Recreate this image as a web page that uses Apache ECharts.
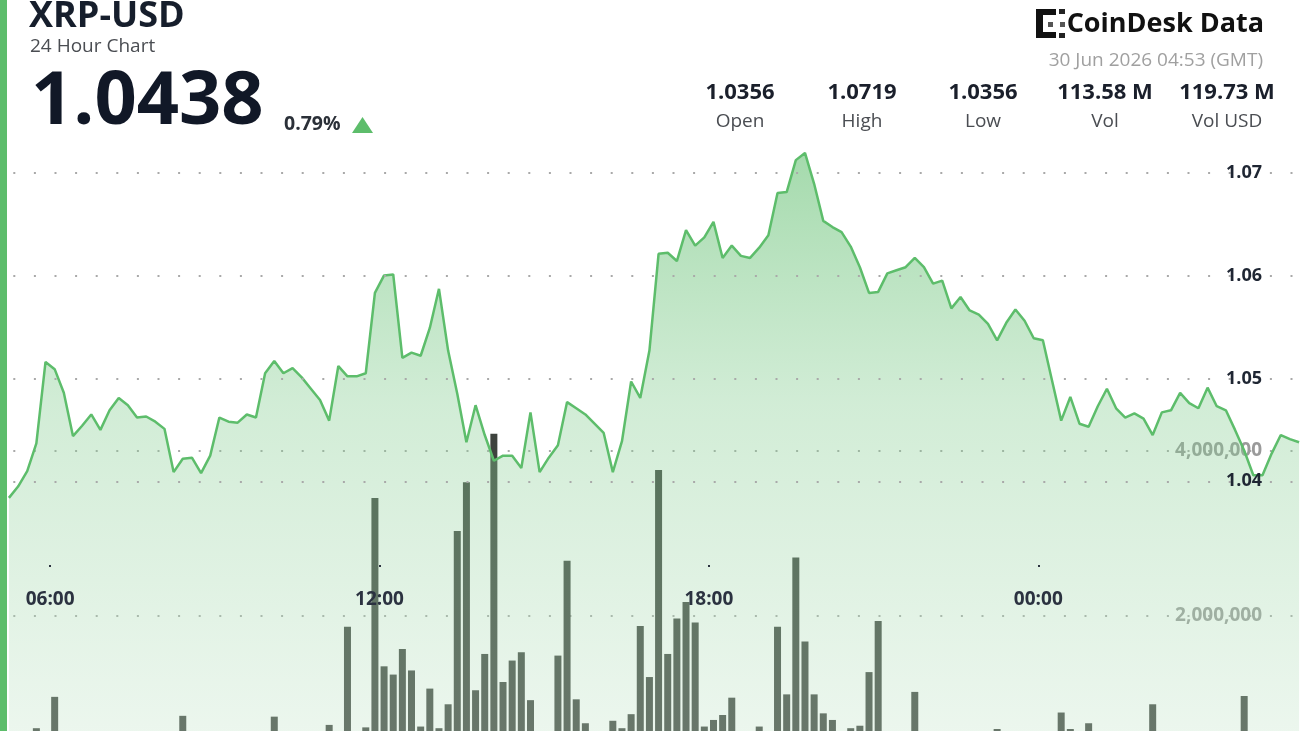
<!DOCTYPE html>
<html>
<head>
<meta charset="utf-8">
<title>XRP-USD 24 Hour Chart</title>
<script src="https://cdn.jsdelivr.net/npm/echarts@6/dist/echarts.min.js"></script>
<style>
  html, body { margin: 0; padding: 0; background: #fff; overflow: hidden; }
  #chart { width: 1300px; height: 731px; }
</style>
</head>
<body>
<div id="chart"></div>
<script>
// 10分钟时间槽（槽中心时间）
const slotTimes = [
  '05:15', '05:25', '05:35', '05:45', '05:55',
  '06:05', '06:15', '06:25', '06:35', '06:45', '06:55',
  '07:05', '07:15', '07:25', '07:35', '07:45', '07:55',
  '08:05', '08:15', '08:25', '08:35', '08:45', '08:55',
  '09:05', '09:15', '09:25', '09:35', '09:45', '09:55',
  '10:05', '10:15', '10:25', '10:35', '10:45', '10:55',
  '11:05', '11:15', '11:25', '11:35', '11:45', '11:55',
  '12:05', '12:15', '12:25', '12:35', '12:45', '12:55',
  '13:05', '13:15', '13:25', '13:35', '13:45', '13:55',
  '14:05', '14:15', '14:25', '14:35', '14:45', '14:55',
  '15:05', '15:15', '15:25', '15:35', '15:45', '15:55',
  '16:05', '16:15', '16:25', '16:35', '16:45', '16:55',
  '17:05', '17:15', '17:25', '17:35', '17:45', '17:55',
  '18:05', '18:15', '18:25', '18:35', '18:45', '18:55',
  '19:05', '19:15', '19:25', '19:35', '19:45', '19:55',
  '20:05', '20:15', '20:25', '20:35', '20:45', '20:55',
  '21:05', '21:15', '21:25', '21:35', '21:45', '21:55',
  '22:05', '22:15', '22:25', '22:35', '22:45', '22:55',
  '23:05', '23:15', '23:25', '23:35', '23:45', '23:55',
  '00:05', '00:15', '00:25', '00:35', '00:45', '00:55',
  '01:05', '01:15', '01:25', '01:35', '01:45', '01:55',
  '02:05', '02:15', '02:25', '02:35', '02:45', '02:55',
  '03:05', '03:15', '03:25', '03:35', '03:45', '03:55',
  '04:05', '04:15', '04:25', '04:35', '04:45'
];

// 价格
const prices = [
  1.0384, 1.0395, 1.0410, 1.0437, 1.0516,
  1.0509, 1.0486, 1.0444, 1.0454, 1.0465, 1.0450,
  1.0469, 1.0481, 1.0474, 1.0462, 1.0463, 1.0458,
  1.0451, 1.0409, 1.0422, 1.0423, 1.0408, 1.0425,
  1.0462, 1.0458, 1.0457, 1.0465, 1.0462, 1.0505,
  1.0517, 1.0505, 1.0510, 1.0501, 1.0490, 1.0479,
  1.0459, 1.0512, 1.0502, 1.0502, 1.0505, 1.0583,
  1.0600, 1.0601, 1.0520, 1.0525, 1.0522, 1.0549,
  1.0587, 1.0527, 1.0485, 1.0438, 1.0474, 1.0445,
  1.0420, 1.0425, 1.0425, 1.0413, 1.0467, 1.0409,
  1.0423, 1.0435, 1.0477, 1.0471, 1.0465, 1.0456,
  1.0447, 1.0409, 1.0439, 1.0497, 1.0481, 1.0527,
  1.0621, 1.0622, 1.0614, 1.0644, 1.0629, 1.0637,
  1.0652, 1.0617, 1.0629, 1.0619, 1.0617, 1.0627,
  1.0639, 1.0680, 1.0681, 1.0712, 1.0719, 1.0689,
  1.0653, 1.0647, 1.0642, 1.0628, 1.0608, 1.0583,
  1.0584, 1.0602, 1.0605, 1.0608, 1.0617, 1.0608,
  1.0592, 1.0595, 1.0568, 1.0579, 1.0566, 1.0562,
  1.0553, 1.0537, 1.0554, 1.0567, 1.0556, 1.0539,
  1.0537, 1.0498, 1.0459, 1.0482, 1.0456, 1.0453,
  1.0473, 1.0490, 1.0471, 1.0462, 1.0466, 1.0461,
  1.0445, 1.0467, 1.0469, 1.0486, 1.0476, 1.0471,
  1.0491, 1.0473, 1.0469, 1.0450, 1.0430, 1.0406,
  1.0406, 1.0427, 1.0445, 1.0441, 1.0438
];

// 成交量
const volumes = [
  420000, 310000, 460000, 640000, 380000,
  1020000, 350000, 280000, 410000, 330000, 290000,
  450000, 370000, 260000, 340000, 480000, 300000,
  390000, 520000, 790000, 360000, 440000, 270000,
  310000, 500000, 380000, 330000, 420000, 470000,
  780000, 350000, 290000, 410000, 360000, 450000,
  680000, 530000, 1870000, 480000, 650000, 3430000,
  1390000, 1290000, 1600000, 1340000, 660000, 1120000,
  640000, 930000, 3030000, 3620000, 1100000, 1540000,
  4210000, 1200000, 1460000, 1560000, 980000, 420000,
  510000, 1520000, 2670000, 990000, 700000, 540000,
  470000, 730000, 640000, 810000, 1880000, 1260000,
  3770000, 1540000, 1970000, 2170000, 1920000, 660000,
  740000, 800000, 1010000, 550000, 430000, 660000,
  520000, 1870000, 1050000, 2710000, 1690000, 1050000,
  820000, 740000, 560000, 640000, 670000, 1320000,
  1940000, 480000, 390000, 420000, 1080000, 450000,
  370000, 310000, 400000, 350000, 280000, 330000,
  420000, 630000, 360000, 290000, 380000, 340000,
  300000, 410000, 830000, 630000, 450000, 700000,
  380000, 330000, 290000, 360000, 410000, 340000,
  930000, 420000, 300000, 350000, 280000, 390000,
  330000, 270000, 360000, 420000, 1030000, 380000,
  310000, 290000, 340000, 260000, 300000
];

const hourTicks = ['06:00', '12:00', '18:00', '00:00'];
const priceTicks = [1.04, 1.05, 1.06, 1.07];
const volumeTicks = [2000000, 4000000];

const statValues = ['1.0356', '1.0719', '1.0356', '113.58 M', '119.73 M'];
const statNames = ['Open', 'High', 'Low', 'Vol', 'Vol USD'];

const FONT = '"Open Sans", "Noto Sans", sans-serif';
const GREEN = '#5dbd6b';

// 时间转分钟，05:00 之前属于第二天
function toMinutes(t) {
  const parts = t.split(':').map(Number);
  const h = parts[0] < 5 ? parts[0] + 24 : parts[0];
  return h * 60 + parts[1];
}

function minutesToLabel(v) {
  const m = ((Math.round(v) % 1440) + 1440) % 1440;
  const hh = String(Math.floor(m / 60)).padStart(2, '0');
  const mm = String(m % 60).padStart(2, '0');
  return hh + ':' + mm;
}

const priceData = slotTimes.map((t, i) => [toMinutes(t), prices[i]]);
const volumeData = slotTimes.map((t, i) => [toMinutes(t), volumes[i]]);
const hourTickValues = hourTicks.map(toMinutes);

const dotLine = {
  type: [2, 18.6],
  dashOffset: 15.3,
  width: 2,
  color: '#a9a9a9'
};

// 头部文字
const headerElements = [
  { type: 'rect', shape: { x: 0, y: 0, width: 7, height: 731 }, style: { fill: GREEN } },
  { type: 'text', x: 29, y: 17, style: { text: 'XRP-USD', font: 'bold 36px ' + FONT, fill: '#161e2c', textVerticalAlign: 'middle' } },
  { type: 'text', x: 30, y: 47, style: { text: '24 Hour Chart', font: '19px ' + FONT, fill: '#4a4d52', textVerticalAlign: 'middle' } },
  { type: 'text', x: 31, y: 103, style: { text: '1.0438', font: 'bold 74px ' + FONT, fill: '#111827', textVerticalAlign: 'middle' } },
  { type: 'text', x: 284, y: 124, style: { text: '0.79%', font: 'bold 19.5px ' + FONT, fill: '#2b3038', textVerticalAlign: 'middle' } },
  { type: 'polygon', shape: { points: [[352, 133], [373, 133], [362.5, 117]] }, style: { fill: GREEN } },
  { type: 'text', x: 1263, y: 61, style: { text: '30 Jun 2026 04:53 (GMT)', font: '19px ' + FONT, fill: '#a0a0a0', textAlign: 'right', textVerticalAlign: 'middle' } },
  { type: 'text', x: 1264, y: 24, style: { text: 'CoinDesk Data', font: 'bold 27px ' + FONT, fill: '#111111', textAlign: 'right', textVerticalAlign: 'middle' } },
  // logo 图标
  { type: 'rect', shape: { x: 1036, y: 9, width: 7, height: 29 }, style: { fill: '#111' } },
  { type: 'rect', shape: { x: 1036, y: 9, width: 20, height: 6 }, style: { fill: '#111' } },
  { type: 'rect', shape: { x: 1059, y: 9, width: 6, height: 5 }, style: { fill: '#222' } },
  { type: 'rect', shape: { x: 1036, y: 32, width: 20, height: 6 }, style: { fill: '#111' } },
  { type: 'rect', shape: { x: 1059, y: 33, width: 6, height: 5 }, style: { fill: '#222' } },
  { type: 'rect', shape: { x: 1048, y: 22, width: 5, height: 5 }, style: { fill: '#555' } },
  { type: 'rect', shape: { x: 1060, y: 22, width: 5, height: 5 }, style: { fill: '#555' } }
];

const statX = [740, 862, 983, 1105, 1227];
statValues.forEach((v, i) => {
  headerElements.push({ type: 'text', x: statX[i], y: 93, style: { text: v, font: 'bold 22px ' + FONT, fill: '#1a1f2b', textAlign: 'center', textVerticalAlign: 'middle' } });
  headerElements.push({ type: 'text', x: statX[i], y: 122, style: { text: statNames[i], font: '19px ' + FONT, fill: '#4a4d52', textAlign: 'center', textVerticalAlign: 'middle' } });
});

const chartDom = document.getElementById('chart');
const myChart = echarts.init(chartDom);

const option = {
  backgroundColor: '#ffffff',
  animation: false,
  grid: {
    left: 8,
    right: 0,
    top: 121,
    height: 660,
    outerBoundsMode: 'none'
  },
  xAxis: {
    type: 'value',
    min: 314,
    max: 1726,
    position: 'bottom',
    offset: -216,
    z: 10,
    axisLine: { show: false },
    splitLine: { show: false },
    axisTick: {
      show: true,
      length: 2,
      customValues: hourTickValues,
      lineStyle: { color: '#2b3240', width: 2 }
    },
    axisLabel: {
      customValues: hourTickValues,
      margin: 25,
      color: '#2b3240',
      fontSize: 19,
      fontWeight: 'bold',
      fontFamily: FONT,
      formatter: minutesToLabel
    }
  },
  yAxis: [
    {
      type: 'value',
      position: 'right',
      min: 1.0109,
      max: 1.0750,
      z: 10,
      axisLine: { show: false },
      axisTick: { show: false, customValues: priceTicks },
      axisLabel: {
        inside: true,
        margin: 38,
        customValues: priceTicks,
        color: '#1f2633',
        fontSize: 18,
        fontWeight: 'bold',
        fontFamily: FONT,
        formatter: (v) => v.toFixed(2)
      },
      splitLine: { show: true, lineStyle: dotLine }
    },
    {
      type: 'value',
      position: 'right',
      min: 0,
      max: 8000000,
      axisLine: { show: false },
      axisTick: { show: false, customValues: volumeTicks },
      axisLabel: {
        inside: true,
        margin: 38,
        customValues: volumeTicks,
        color: '#9a9a9a',
        fontSize: 19,
        fontWeight: 'bold',
        fontFamily: FONT,
        formatter: (v) => v.toLocaleString('en-US')
      },
      splitLine: { show: true, lineStyle: dotLine }
    }
  ],
  series: [
    {
      name: 'Vol',
      type: 'bar',
      yAxisIndex: 1,
      barWidth: 7,
      z: 1,
      itemStyle: { color: '#3e433e' },
      data: volumeData
    },
    {
      name: 'XRP-USD',
      type: 'line',
      yAxisIndex: 0,
      z: 2,
      showSymbol: false,
      symbol: 'none',
      lineStyle: { color: GREEN, width: 2.5 },
      areaStyle: {
        color: new echarts.graphic.LinearGradient(0, 0, 0, 1, [
          { offset: 0, color: 'rgba(93,189,107,0.80)' },
          { offset: 0.4, color: 'rgba(125,202,138,0.50)' },
          { offset: 1, color: 'rgba(205,232,210,0.45)' }
        ])
      },
      data: priceData
    }
  ],
  graphic: { elements: headerElements.map((e) => Object.assign({ z: 100 }, e)) }
};

option && myChart.setOption(option);
</script>
</body>
</html>
